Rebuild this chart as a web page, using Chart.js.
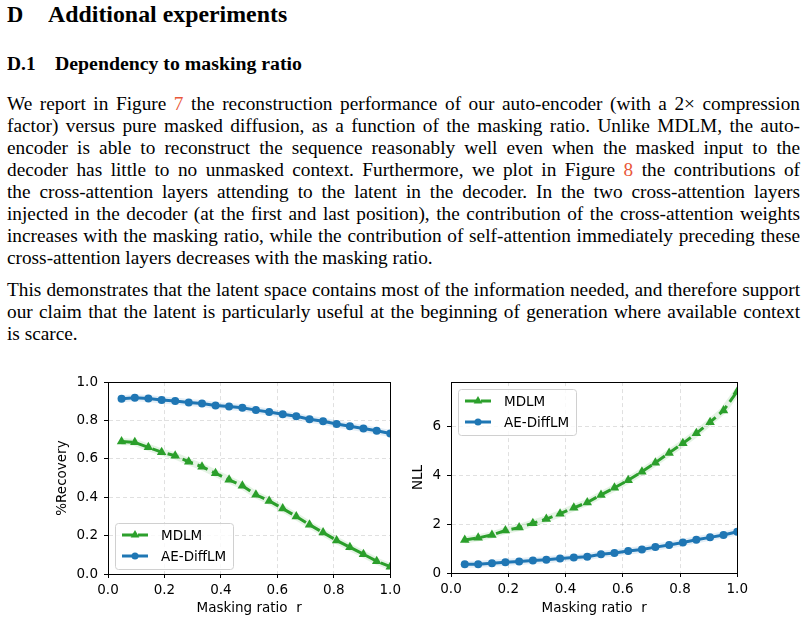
<!DOCTYPE html>
<html>
<head>
<meta charset="utf-8">
<script src="https://cdn.jsdelivr.net/npm/chart.js@4"></script>
<style>
body{margin:0;width:808px;height:623px;position:relative;background:#fff;overflow:hidden;font-family:"Liberation Serif","Times New Roman",serif;color:#000}
.h{position:absolute;font-weight:bold;white-space:nowrap;transform-origin:0 0}
.p{position:absolute;left:7px;width:793px;font-size:19.3px;line-height:22px}
.p div{text-align:justify;text-align-last:justify;white-space:nowrap}
.p div.end{text-align-last:left}
.ref{color:#e9573a}
canvas{position:absolute}
</style>
</head>
<body>
<div class="h" style="left:7px;top:4px;font-size:22.5px;line-height:22.5px">D</div>
<div class="h" style="left:48px;top:4px;font-size:22.5px;line-height:22.5px;transform:scaleX(1.06)">Additional experiments</div>
<div class="h" style="left:7px;top:55px;font-size:18px;line-height:18px;transform:scaleX(1.08)">D.1</div>
<div class="h" style="left:55px;top:55px;font-size:18px;line-height:18px;transform:scaleX(1.10)">Dependency to masking ratio</div>

<div class="p" style="top:93px">
<div>We report in Figure <span class="ref">7</span> the reconstruction performance of our auto-encoder (with a 2× compression</div>
<div>factor) versus pure masked diffusion, as a function of the masking ratio. Unlike MDLM, the auto-</div>
<div>encoder is able to reconstruct the sequence reasonably well even when the masked input to the</div>
<div>decoder has little to no unmasked context. Furthermore, we plot in Figure <span class="ref">8</span> the contributions of</div>
<div>the cross-attention layers attending to the latent in the decoder. In the two cross-attention layers</div>
<div>injected in the decoder (at the first and last position), the contribution of the cross-attention weights</div>
<div>increases with the masking ratio, while the contribution of self-attention immediately preceding these</div>
<div class="end">cross-attention layers decreases with the masking ratio.</div>
</div>
<div class="p" style="top:279px">
<div>This demonstrates that the latent space contains most of the information needed, and therefore support</div>
<div>our claim that the latent is particularly useful at the beginning of generation where available context</div>
<div class="end">is scarce.</div>
</div>

<canvas id="rec" width="355" height="255" style="left:50px;top:368px"></canvas>
<canvas id="nll" width="346" height="255" style="left:406px;top:368px"></canvas>

<script>
ratio   = [0.048,0.095,0.143,0.190,0.238,0.286,0.333,0.381,0.429,0.476,0.524,0.571,0.619,0.667,0.714,0.762,0.810,0.857,0.905,0.952,1.0]
recMDLM = [0.690,0.686,0.660,0.635,0.616,0.585,0.559,0.525,0.491,0.460,0.413,0.381,0.341,0.300,0.257,0.216,0.175,0.139,0.103,0.067,0.038]
recAE   = [0.913,0.919,0.914,0.907,0.902,0.894,0.889,0.878,0.873,0.866,0.854,0.844,0.832,0.822,0.806,0.796,0.782,0.770,0.758,0.746,0.732]
nllMDLM = [1.35,1.44,1.56,1.74,1.86,2.04,2.21,2.43,2.67,2.89,3.20,3.49,3.80,4.15,4.52,4.92,5.31,5.72,6.18,6.66,7.44]
nllAE   = [0.36,0.36,0.40,0.44,0.47,0.51,0.54,0.59,0.63,0.67,0.77,0.82,0.90,0.96,1.06,1.15,1.25,1.36,1.46,1.56,1.69]

xTicks   = [0,0.2,0.4,0.6,0.8,1.0]
recTicks = [0,0.2,0.4,0.6,0.8,1.0]
nllTicks = [0,2,4,6]

GREEN = '#2ca02c'
BLUE  = '#1f77b4'

Chart.defaults.font.family = 'DejaVu Sans'
Chart.defaults.font.size = 13.5
Chart.defaults.color = '#000'

function pts(ys){ return ys.map((y,i)=>({x:ratio[i], y:y})) }

function series(ys){
    return [
        {label:'', halo:true, data:pts(ys.mdlm), borderColor:'rgba(44,160,44,0.12)', borderWidth:7, pointRadius:0, clip:0},
        {label:'', halo:true, data:pts(ys.ae), borderColor:'rgba(31,119,180,0.12)', borderWidth:7, pointRadius:0, clip:0},
        {label:'MDLM', data:pts(ys.mdlm), borderColor:GREEN, backgroundColor:GREEN, borderWidth:3, borderDash:[11,5],
         pointStyle:'triangle', pointRadius:5.5, pointBorderWidth:0, clip:0},
        {label:'AE-DiffLM', data:pts(ys.ae), borderColor:BLUE, backgroundColor:BLUE, borderWidth:3,
         pointStyle:'circle', pointRadius:4, pointBorderWidth:0, clip:0}
    ]
}

function axis(title, ticks, dec, min, max, size, horiz, padTitle){
    return {
        type:'linear', min:min, max:max,
        afterBuildTicks: s => { s.ticks = ticks.map(v=>({value:v})) },
        afterFit: s => { if(horiz) s.height = size; else s.width = size },
        ticks:{ callback: v => dec ? v.toFixed(1) : String(v), padding: horiz ? 4 : 6, maxRotation:0, autoSkip:false },
        grid:{ color:'rgba(0,0,0,0.12)', tickColor:'#000', tickLength:4, tickWidth:1 },
        border:{ display:true, color:'#000', width:1, dash:[4,3] },
        title:{ display:true, text:title, padding: padTitle }
    }
}

boxPlugin = {
    id:'box',
    afterDraw(chart){
        const a = chart.chartArea, ctx = chart.ctx
        ctx.save()
        ctx.strokeStyle = '#000'; ctx.lineWidth = 1
        ctx.strokeRect(Math.round(a.left)+0.5, Math.round(a.top)+0.5, Math.round(a.right-a.left), Math.round(a.bottom-a.top))
        ctx.restore()
    }
}

legendPlugin = {
    id:'mplLegend',
    afterDatasetsDraw(chart, args, opts){
        const a = chart.chartArea, ctx = chart.ctx
        const w = 118, h = 46
        const x = Math.round(a.left) + 7
        const y = opts.corner === 'bottom' ? Math.round(a.bottom) - 5 - h : Math.round(a.top) + 7
        ctx.save()
        ctx.fillStyle = 'rgba(255,255,255,0.8)'
        ctx.strokeStyle = '#d0d0d0'; ctx.lineWidth = 1
        ctx.beginPath(); ctx.roundRect(x+0.5, y+0.5, w, h, 3); ctx.fill(); ctx.stroke()
        const sets = chart.data.datasets.filter(d => !d.halo)
        sets.forEach((d,i) => {
            const cy = y + 12 + i*21
            const x0 = x + 7, x1 = x + 33, cx = (x0+x1)/2
            ctx.strokeStyle = d.borderColor; ctx.lineWidth = 3
            ctx.setLineDash(d.borderDash || [])
            ctx.beginPath(); ctx.moveTo(x0, cy); ctx.lineTo(x1, cy); ctx.stroke()
            ctx.setLineDash([])
            ctx.fillStyle = d.borderColor
            ctx.beginPath()
            if(d.pointStyle === 'triangle'){
                const r = 5
                ctx.moveTo(cx, cy - r); ctx.lineTo(cx + r*0.87, cy + r*0.5); ctx.lineTo(cx - r*0.87, cy + r*0.5)
                ctx.closePath()
            } else {
                ctx.arc(cx, cy, 3.5, 0, Math.PI*2)
            }
            ctx.fill()
            ctx.fillStyle = '#000'
            ctx.font = '13.5px "DejaVu Sans"'
            ctx.textBaseline = 'middle'
            ctx.fillText(d.label, x + 46, cy + 1)
        })
        ctx.restore()
    }
}

function plot(id, data, yTitle, yTicks, yDec, yMax, yWidth, xHeight, pad, corner){
    new Chart(document.getElementById(id).getContext('2d'), {
        type:'line',
        data:{ datasets: series(data) },
        options:{
            responsive:false, animation:false, devicePixelRatio:1,
            layout:{ padding: pad },
            plugins:{ legend:{display:false}, tooltip:{enabled:false}, mplLegend:{corner:corner} },
            scales:{
                x: axis('Masking ratio  r', xTicks, true, 0, 1, xHeight, true, {top:0, bottom:6}),
                y: axis(yTitle, yTicks, yDec, 0, yMax, yWidth, false, {top:4, bottom:0})
            }
        },
        plugins:[boxPlugin, legendPlugin]
    })
}

plot('rec', {mdlm:recMDLM, ae:recAE}, '%Recovery', recTicks, true, 1, 58, 49, {top:12, right:11, left:0, bottom:0}, 'bottom')
plot('nll', {mdlm:nllMDLM, ae:nllAE}, 'NLL', nllTicks, false, 7.82, 45, 50, {top:11, right:14, left:0, bottom:0}, 'top')
</script>
</body>
</html>
